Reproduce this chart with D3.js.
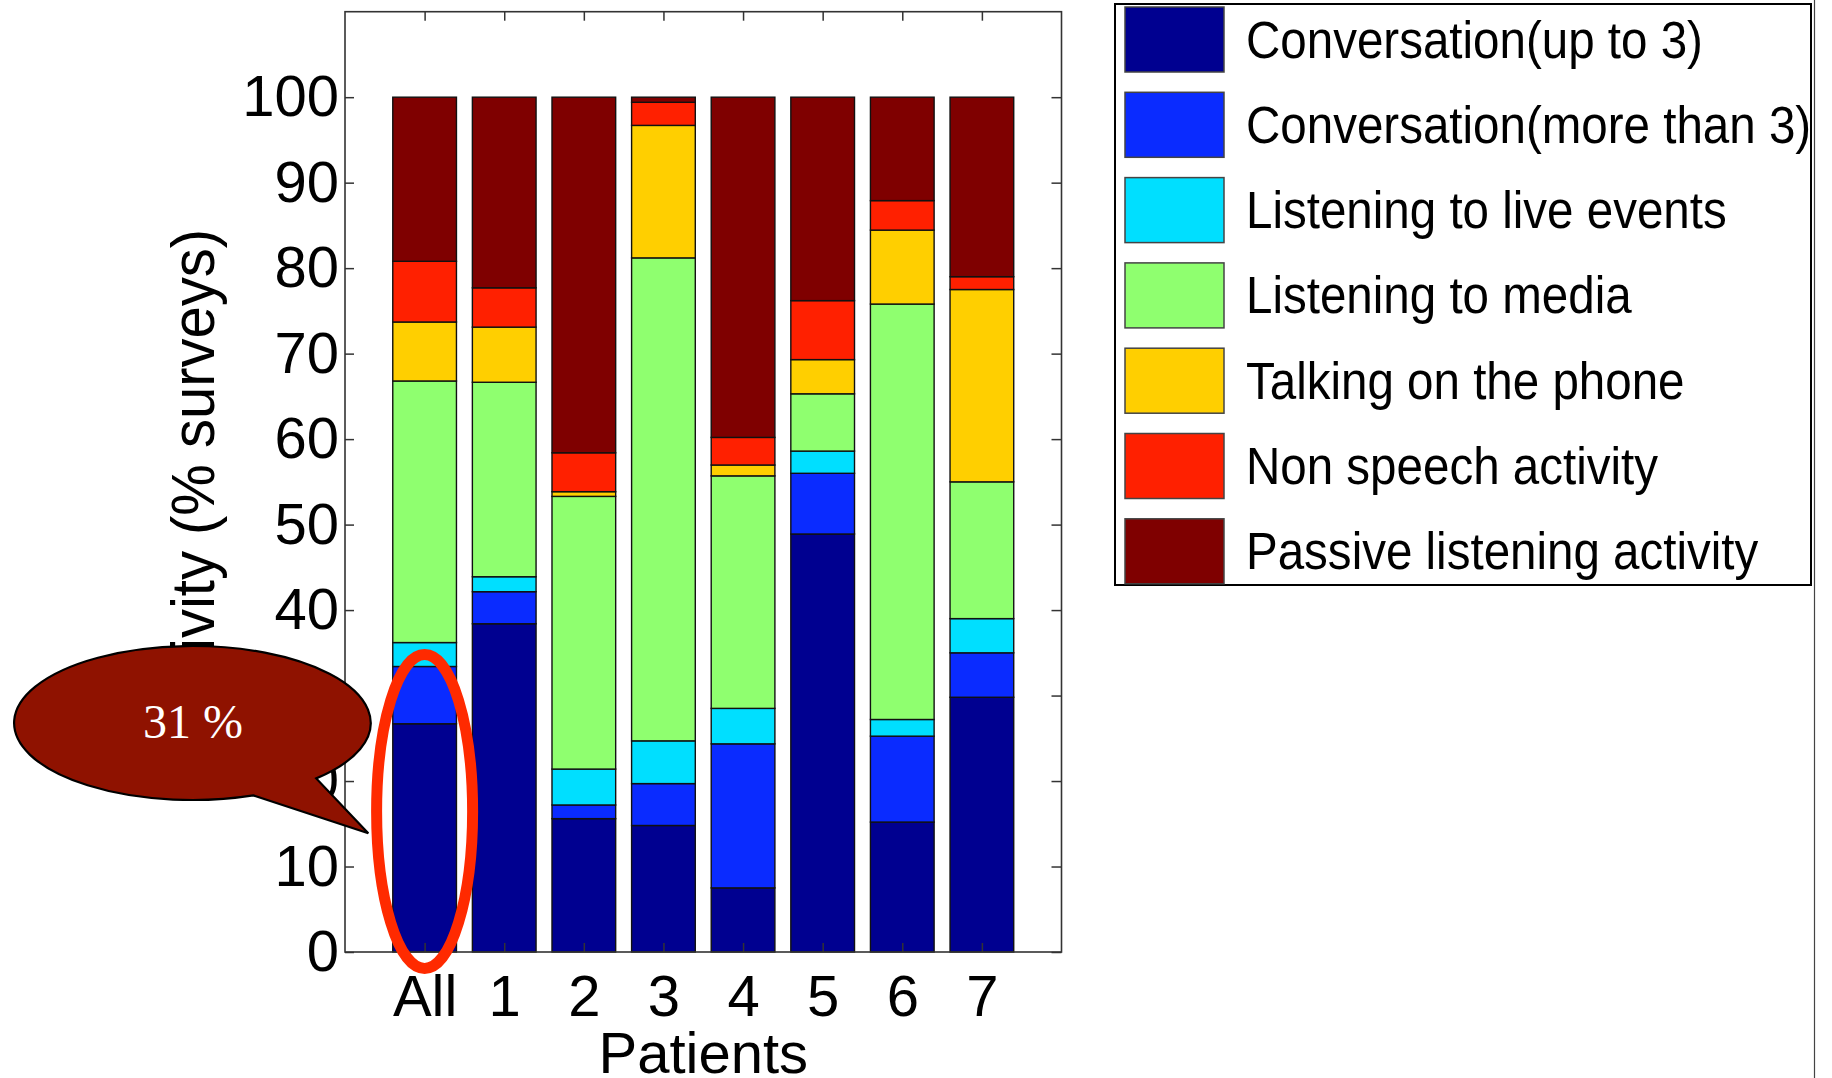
<!DOCTYPE html>
<html>
<head>
<meta charset="utf-8">
<script src="https://cdn.jsdelivr.net/npm/d3@7"></script>
<style>
  html, body { margin: 0; padding: 0; background: #fff; }
  svg { display: block; }
</style>
</head>
<body>
<svg id="chart" width="1832" height="1078"></svg>
<script>
// ---------------- DATA ----------------
const categories = ["All", "1", "2", "3", "4", "5", "6", "7"];
const seriesNames = [
  "Conversation(up to 3)",
  "Conversation(more than 3)",
  "Listening to live events",
  "Listening to media",
  "Talking on the phone",
  "Non speech activity",
  "Passive listening activity"
];
const conversationUpTo3   = [26.7, 38.4, 15.6, 14.8,  7.5, 48.9, 15.2, 29.8];
const conversationMore3   = [ 6.7, 3.75,  1.6,  4.9, 16.85, 7.1, 10.05, 5.2];
const liveEvents          = [ 2.8, 1.75,  4.2,  5.0,  4.15, 2.6,  1.95, 4.0];
const media               = [30.6, 22.75, 31.9, 56.5, 27.2, 6.7, 48.6, 16.0];
const phone               = [ 6.9, 6.45, 0.55, 15.5,  1.27, 4.0,  8.65, 22.5];
const nonSpeech           = [ 7.1,  4.6, 4.55,  2.7,  3.23, 6.9,  3.45, 1.5];
const passiveListening    = [19.2, 22.3, 41.6,  0.6, 39.8, 23.8, 12.1, 21.0];
const yTickValues = [0, 10, 20, 30, 40, 50, 60, 70, 80, 90, 100];
const calloutLabel = "31 %";
const xAxisTitle = "Patients";
const yAxisTitle = "Activity (% surveys)";

// ---------------- STYLE ----------------
const colors = ["#000090", "#0a2bff", "#00dfff", "#8fff6f", "#ffcf00", "#ff2000", "#7f0000"];
const sans = "'Liberation Sans', Arial, Helvetica, sans-serif";
const serif = "'Liberation Serif', 'Times New Roman', Times, serif";

const seriesValues = [conversationUpTo3, conversationMore3, liveEvents, media, phone, nonSpeech, passiveListening];
const table = categories.map((c, i) => {
  const row = { cat: c, idx: i + 1 };
  seriesNames.forEach((s, k) => { row[s] = seriesValues[k][i]; });
  return row;
});

const svg = d3.select("#chart");
const plotLeft = 345, plotRight = 1061.5, plotTop = 11.7, plotBottom = 952;

const x = d3.scaleLinear().domain([0, categories.length + 1]).range([plotLeft, plotRight]);
const y = d3.scaleLinear().domain([0, 110]).range([plotBottom, plotTop]);
const barW = (x(1) - x(0)) * 0.8;

// Y axis title (drawn first; covered later by callout)
svg.append("text")
  .attr("transform", `translate(214, ${(plotTop + plotBottom) / 2}) rotate(-90) scale(1,1.04)`)
  .attr("text-anchor", "middle")
  .style("font-family", sans)
  .attr("font-size", 58)
  .attr("fill", "#000")
  .text(yAxisTitle);

// Stacked bars
const stack = d3.stack().keys(seriesNames);
const stacked = stack(table);
const gBars = svg.append("g");
stacked.forEach((layer, k) => {
  gBars.selectAll(null)
    .data(layer)
    .enter().append("rect")
    .attr("x", d => x(d.data.idx) - barW / 2)
    .attr("width", barW)
    .attr("y", d => y(d[1]))
    .attr("height", d => y(d[0]) - y(d[1]))
    .attr("fill", colors[k])
    .attr("stroke", "#111")
    .attr("stroke-width", 1.4);
});

// Axes
const axisColor = "#333";
const gLeft = svg.append("g").attr("transform", `translate(${plotLeft},0)`)
  .call(d3.axisLeft(y).tickValues(yTickValues).tickSizeInner(-9).tickSizeOuter(0).tickPadding(6));
const gRight = svg.append("g").attr("transform", `translate(${plotRight},0)`)
  .call(d3.axisRight(y).tickValues(yTickValues).tickSizeInner(-10).tickSizeOuter(0).tickFormat(""));
const xTickVals = categories.map((c, i) => i + 1);
const gTop = svg.append("g").attr("transform", `translate(0,${plotTop})`)
  .call(d3.axisTop(x).tickValues(xTickVals).tickSizeInner(-9).tickSizeOuter(0).tickFormat(""));
const gBottom = svg.append("g").attr("transform", `translate(0,${plotBottom})`)
  .call(d3.axisBottom(x).tickValues(xTickVals).tickSizeInner(-9).tickSizeOuter(0).tickPadding(23)
    .tickFormat(d => categories[d - 1]));

[gLeft, gRight, gTop, gBottom].forEach(g => {
  g.select(".domain").remove();
  g.selectAll(".tick line").attr("stroke", axisColor).attr("stroke-width", 1.5);
  g.selectAll(".tick text").attr("font-size", 58).attr("fill", "#000")
    .style("font-family", sans);
});

// frame
svg.append("rect")
  .attr("x", plotLeft).attr("y", plotTop)
  .attr("width", plotRight - plotLeft).attr("height", plotBottom - plotTop)
  .attr("fill", "none").attr("stroke", axisColor).attr("stroke-width", 1.6);

// X axis title
svg.append("text")
  .attr("x", (plotLeft + plotRight) / 2).attr("y", 1073)
  .attr("text-anchor", "middle").attr("font-size", 58).attr("fill", "#000")
  .style("font-family", sans)
  .text(xAxisTitle);

// Legend
const lg = svg.append("g");
lg.append("rect").attr("x", 1115).attr("y", 4).attr("width", 696).attr("height", 581)
  .attr("fill", "#fff").attr("stroke", "#000").attr("stroke-width", 2);
seriesNames.forEach((s, k) => {
  const top = 7 + k * 85.3;
  lg.append("rect").attr("x", 1125).attr("y", top).attr("width", 99).attr("height", 65)
    .attr("fill", colors[k]).attr("stroke", "#444").attr("stroke-width", 1.5);
  lg.append("text")
    .attr("transform", `translate(1246, ${top + 32.5 + 18}) scale(0.99,1.08)`)
    .style("font-family", sans)
    .attr("font-size", 48).attr("fill", "#000").text(s);
});
svg.append("line").attr("x1", 1814.5).attr("x2", 1814.5).attr("y1", 0).attr("y2", 1078)
  .attr("stroke", "#444").attr("stroke-width", 1.2);

// Red ellipse highlighting the "All" bar
svg.append("ellipse")
  .attr("cx", x(1)).attr("cy", 811.5).attr("rx", 48).attr("ry", 157)
  .attr("fill", "none").attr("stroke", "#ff2a00").attr("stroke-width", 11);

// Callout bubble
const cx = 192.4, cy = 723, rx = 178.3, ry = 77;
const aA = 46 * Math.PI / 180, aB = 70 * Math.PI / 180;
const A = [cx + rx * Math.cos(aA), cy + ry * Math.sin(aA)];
const B = [cx + rx * Math.cos(aB), cy + ry * Math.sin(aB)];
const tip = [368.3, 833.3];
svg.append("path")
  .attr("d", `M${A[0]},${A[1]} A${rx},${ry} 0 1 0 ${B[0]},${B[1]} L${tip[0]},${tip[1]} Z`)
  .attr("fill", "#8f1200").attr("stroke", "#000").attr("stroke-width", 2.2)
  .attr("stroke-linejoin", "miter");
svg.append("text")
  .attr("x", 193).attr("y", 738)
  .attr("text-anchor", "middle")
  .style("font-family", serif)
  .attr("font-size", 48).attr("fill", "#fff")
  .text(calloutLabel);
</script>
</body>
</html>
